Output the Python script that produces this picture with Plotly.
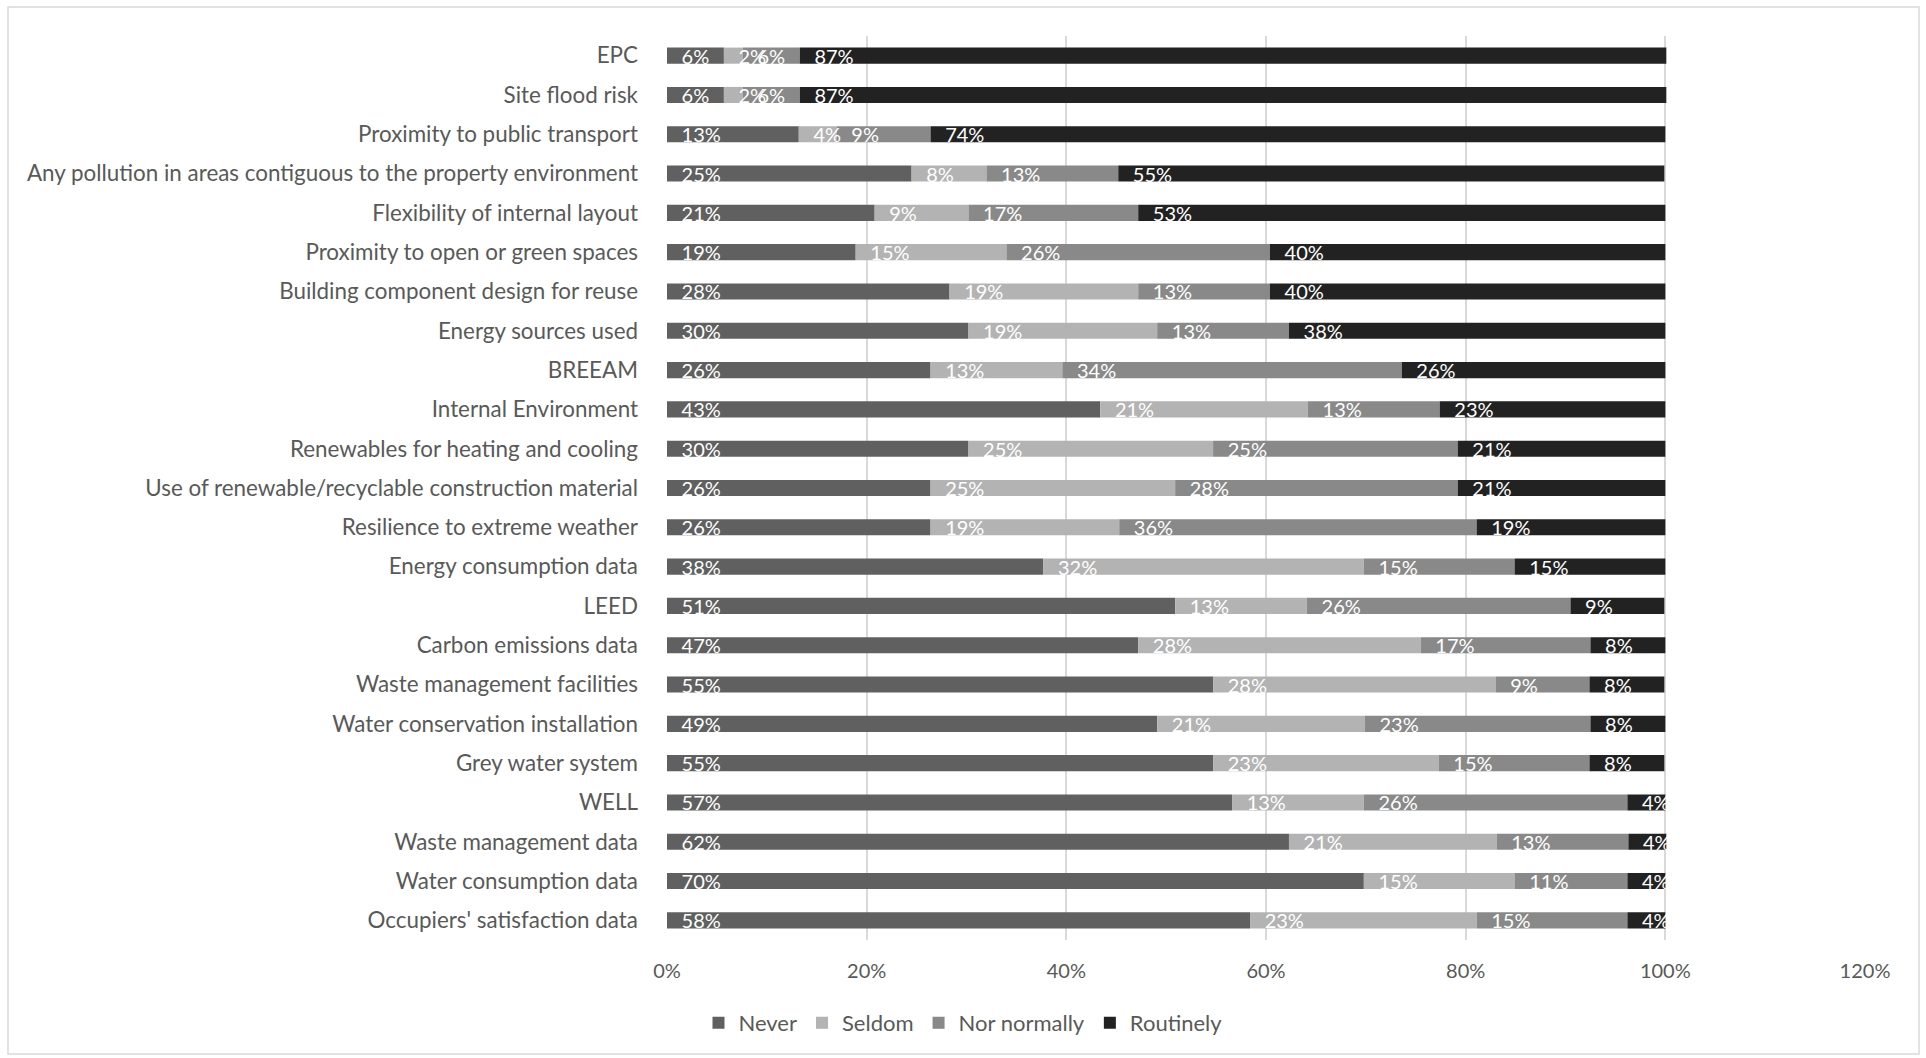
import plotly.graph_objects as go

categories = [
    "EPC",
    "Site flood risk",
    "Proximity to public transport",
    "Any pollution in areas contiguous to the property environment",
    "Flexibility of internal layout",
    "Proximity to open or green spaces",
    "Building component design for reuse",
    "Energy sources used",
    "BREEAM",
    "Internal Environment",
    "Renewables for heating and cooling",
    "Use of renewable/recyclable construction material",
    "Resilience to extreme weather",
    "Energy consumption data",
    "LEED",
    "Carbon emissions data",
    "Waste management facilities",
    "Water conservation installation",
    "Grey water system",
    "WELL",
    "Waste management data",
    "Water consumption data",
    "Occupiers' satisfaction data",
]

never = [5.7, 5.7, 13.2, 24.5, 20.8, 18.9, 28.3, 30.2, 26.4, 43.4, 30.2, 26.4,
         26.4, 37.7, 50.9, 47.2, 54.7, 49.1, 54.7, 56.6, 62.3, 69.8, 58.4]
seldom = [1.9, 1.9, 3.8, 7.5, 9.4, 15.1, 18.9, 18.9, 13.2, 20.8, 24.5, 24.5,
          18.9, 32.1, 13.2, 28.3, 28.3, 20.8, 22.6, 13.2, 20.8, 15.1, 22.7]
nor_normally = [5.7, 5.7, 9.4, 13.2, 17.0, 26.4, 13.2, 13.2, 34.0, 13.2, 24.5, 28.3,
                35.8, 15.1, 26.4, 17.0, 9.4, 22.6, 15.1, 26.4, 13.2, 11.3, 15.1]
routinely = [86.8, 86.8, 73.6, 54.7, 52.8, 39.6, 39.6, 37.7, 26.4, 22.6, 20.8, 20.8,
             18.9, 15.1, 9.4, 7.5, 7.5, 7.5, 7.5, 3.8, 3.8, 3.8, 3.8]

series_names = ["Never", "Seldom", "Nor normally", "Routinely"]
series_values = [never, seldom, nor_normally, routinely]
series_colors = ["#606060", "#b3b3b3", "#898989", "#222222"]

x_ticks = [0, 20, 40, 60, 80, 100, 120]

FONT = "Lato, 'Open Sans', sans-serif"
W, H = 1926, 1058
ML, MR, MT, MB = 667, 61, 36, 118

# stacked bases computed from the data
bases = []
running = [0.0] * len(categories)
for vals in series_values:
    bases.append(list(running))
    running = [r + v for r, v in zip(running, vals)]

fig = go.Figure()
# coloured segments
for name, vals, base, color in zip(series_names, series_values, bases, series_colors):
    fig.add_trace(go.Bar(
        y=categories, x=vals, base=base, name=name, orientation="h",
        marker=dict(color=color, line=dict(width=0)),
        hovertemplate=name + ": %{x:.0f}%<extra></extra>",
    ))
# labels drawn on top of all segments
for name, vals, base in zip(series_names, series_values, bases):
    fig.add_trace(go.Bar(
        y=categories, x=vals, base=base, orientation="h",
        showlegend=False, hoverinfo="skip",
        marker=dict(color="rgba(0,0,0,0)", line=dict(width=0)),
        text=[f"{int(v + 0.5)}%" for v in vals],
        texttemplate="\u2007%{text}",
        textposition="inside",
        insidetextanchor="start",
        constraintext="none",
        cliponaxis=False,
        textfont=dict(family=FONT, size=20, color="white"),
    ))

fig.update_layout(
    width=W, height=H,
    barmode="overlay",
    bargap=0.59,
    plot_bgcolor="white",
    paper_bgcolor="white",
    margin=dict(l=ML, r=MR, t=MT, b=MB),
    font=dict(family=FONT, size=20, color="#595959"),
    xaxis=dict(
        range=[0, 120],
        tickvals=x_ticks,
        ticktext=[f"{t}%" for t in x_ticks],
        showgrid=True, gridcolor="#d9d9d9", gridwidth=1.5,
        zeroline=False, showline=False, ticks="",
        tickfont=dict(size=20, color="#595959"),
        ticklabelstandoff=17,
        fixedrange=True,
    ),
    yaxis=dict(
        autorange="reversed",
        showgrid=False, zeroline=False, showline=False, ticks="",
        ticklabelstandoff=28,
        tickfont=dict(size=22.4, color="#595959"),
        fixedrange=True,
    ),
    legend=dict(
        orientation="h",
        xref="container", yref="container",
        x=0.5, xanchor="center",
        y=1 - 1023 / H, yanchor="middle",
        font=dict(size=22, color="#595959"),
        itemwidth=30,
        traceorder="normal",
    ),
    shapes=[dict(
        type="rect", xref="paper", yref="paper",
        x0=(8 - ML) / (W - ML - MR), x1=(1919 - ML) / (W - ML - MR),
        y0=-(1054 - (H - MB)) / (H - MT - MB), y1=1 + (MT - 7) / (H - MT - MB),
        line=dict(color="#d9d9d9", width=1.5),
        fillcolor="rgba(0,0,0,0)",
        layer="below",
    )],
)

fig.write_html(
    "out.html",
    config={"displayModeBar": False},
    post_script="document.body.style.margin='0';document.body.style.overflow='hidden';",
)
